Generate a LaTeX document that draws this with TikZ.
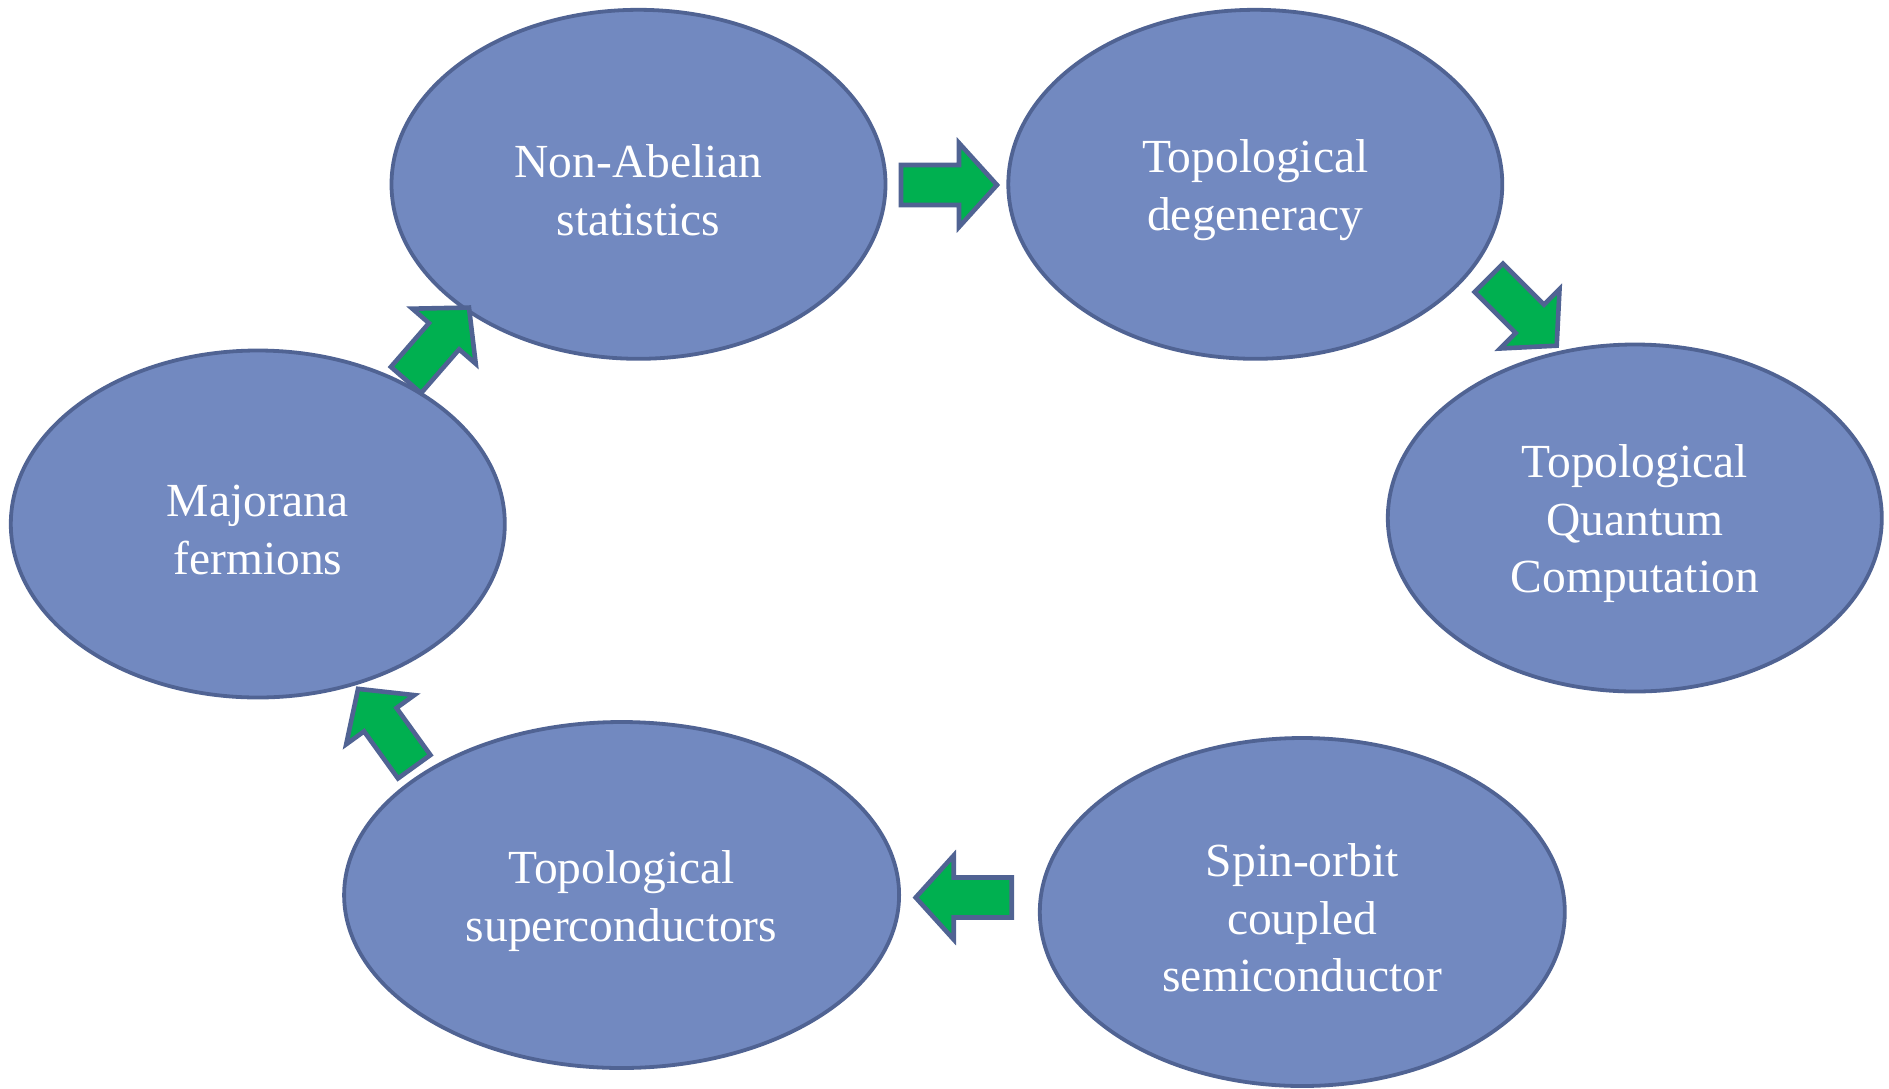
\documentclass[tikz,border=0pt]{standalone}
\usepackage{fontspec}
\setmainfont{Liberation Serif}
\usetikzlibrary{shapes.geometric}
\definecolor{ellfill}{RGB}{114,137,192}
\definecolor{ellline}{RGB}{80,99,147}
\definecolor{arrfill}{RGB}{0,176,80}
\tikzset{
  bubble/.style={ellipse, draw=ellline, fill=ellfill, line width=3.8pt, inner sep=0pt},
  btext/.style={text=white, align=center, font=\fontsize{47.5}{57.5}\selectfont, yshift=-6pt},
  blockarr/.style={draw=ellline, fill=arrfill, line width=4.6pt, line join=miter}
}
\newcommand{\blockarrow}[4]{% name, x, y, angle
  \coordinate (#1) at (#2,#3);
  \begin{scope}[shift={(#1)}, rotate=#4]
    \draw[blockarr] (0,-20) -- (58,-20) -- (58,-42) -- (96,0) -- (58,42) -- (58,20) -- (0,20) -- cycle;
  \end{scope}}
\begin{document}
\begin{tikzpicture}[x=1pt, y=-1pt]
\useasboundingbox (0,0) rectangle (1889,1088);
\node[bubble, minimum width=494pt, minimum height=349pt, label={[btext]center:{Non-Abelian\\statistics}}] (nonab) at (638.5,184.3) {};
\node[bubble, minimum width=494pt, minimum height=349pt, label={[btext]center:{Topological\\degeneracy}}] (topdeg) at (1255.3,184.3) {};
\node[bubble, minimum width=494pt, minimum height=347pt, label={[btext]center:{Topological\\Quantum\\Computation}}] (tqc) at (1634.8,518) {};
\node[bubble, minimum width=525pt, minimum height=348pt, label={[btext]center:{Spin-orbit\\coupled\\semiconductor}}] (soc) at (1302.3,912) {};
\node[bubble, minimum width=555pt, minimum height=346pt, label={[btext]center:{Topological\\superconductors}}] (tsc) at (621.6,895) {};
\node[bubble, minimum width=494pt, minimum height=347pt, label={[btext]center:{Majorana\\fermions}}] (maj) at (257.8,524) {};
\blockarrow{a1}{901}{185}{0}
\blockarrow{a2}{1488.8}{277.8}{-45}
\blockarrow{a3}{1011.7}{897.5}{180}
\blockarrow{a4}{414.2}{766.7}{125.8}
\blockarrow{a5}{406}{380}{49}
\end{tikzpicture}
\end{document}
